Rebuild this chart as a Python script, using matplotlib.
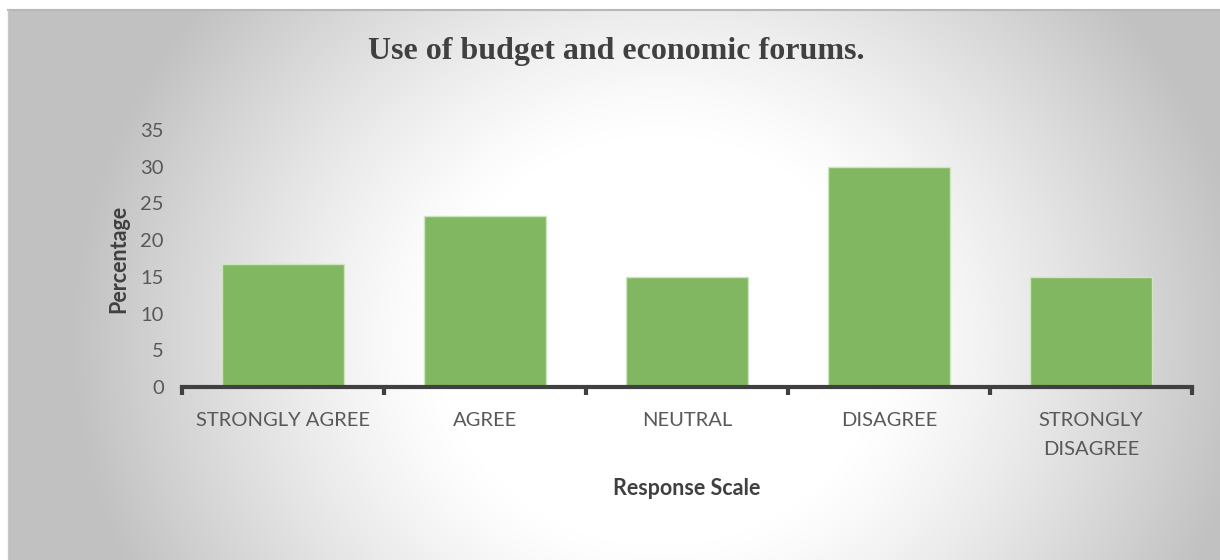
import numpy as np
import matplotlib
matplotlib.use("Agg")
import matplotlib.pyplot as plt

categories = ["STRONGLY AGREE", "AGREE", "NEUTRAL", "DISAGREE", "STRONGLY\nDISAGREE"]
percentages = [16.7, 23.3, 15.0, 30.0, 15.0]
y_ticks = [0, 5, 10, 15, 20, 25, 30, 35]

W, H = 1220, 560
fig = plt.figure(figsize=(W / 100, H / 100), dpi=100)
fig.patch.set_facecolor("white")

# radial grey-to-white panel behind the chart
px0, py0 = 8, 10
pw, ph = W - px0, H - py0
bg = fig.add_axes([px0 / W, 0, pw / W, ph / H])
yy, xx = np.mgrid[0:ph, 0:pw]
cx, cy = 660 - px0, 340 - py0
d = np.sqrt(((xx - cx) / 590.0) ** 2 + ((yy - cy) / 540.0) ** 2)
t = np.clip((d - 0.38) / 0.62, 0, 1) ** 1.2
g = (255 - 62 * t) / 255.0
bg.imshow(np.dstack([g, g, g]), aspect="auto", interpolation="bilinear")
bg.set_axis_off()
fig.add_artist(plt.Line2D([px0 / W, 1], [1 - py0 / H, 1 - py0 / H],
                          color="#b8b8b8", lw=1.5))
fig.add_artist(plt.Line2D([px0 / W, px0 / W], [0, 1 - py0 / H],
                          color="#c8c8c8", lw=1))

ax = fig.add_axes([182 / W, (H - 387) / H, 1010 / W, 257 / H])
ax.patch.set_alpha(0)
x = np.arange(len(categories))
ax.bar(x, percentages, width=0.6, color="#82b762",
       edgecolor="#cfe5c0", linewidth=1, zorder=2)

ax.set_xlim(-0.5, len(categories) - 0.5)
ax.set_ylim(0, 35)
ax.set_yticks(y_ticks)

for s in ["top", "right", "left"]:
    ax.spines[s].set_visible(False)
ax.spines["bottom"].set_color("#404040")
ax.spines["bottom"].set_linewidth(3)
ax.spines["bottom"].set_zorder(3)

ax.set_xticks(np.arange(-0.5, len(categories), 1.0))
ax.set_xticklabels([])
ax.set_xticks(x, minor=True)
ax.set_xticklabels(categories, minor=True, fontfamily="Lato", fontsize=14.5,
                   color="#595959", linespacing=1.85, va="top")
ax.tick_params(axis="x", which="major", length=6, width=3, color="#404040",
               direction="out")
ax.tick_params(axis="x", which="minor", length=0, pad=18)
ax.tick_params(axis="y", length=0, pad=13, labelsize=14.5, labelcolor="#595959")
for lbl in ax.get_yticklabels():
    lbl.set_fontfamily("Lato")

ax.set_ylabel("Percentage", fontfamily="Lato", fontsize=15.5, fontweight="bold",
              color="#404040", labelpad=8)
ax.set_xlabel("Response Scale", fontfamily="Lato", fontsize=15.5,
              fontweight="bold", color="#404040")
ax.xaxis.set_label_coords(0.5, -0.354)

fig.text(616 / W, 1 - 52 / H, "Use of budget and economic forums.",
         ha="center", va="center", fontfamily="Liberation Serif",
         fontsize=23, fontweight="bold", color="#404040")

fig.savefig("out.png", dpi=100)
